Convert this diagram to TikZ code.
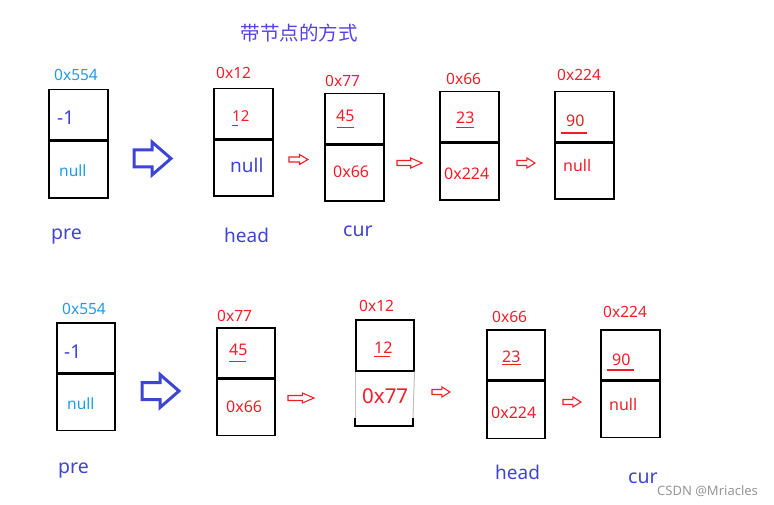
\documentclass[tikz,border=0pt]{standalone}
\usepackage{fontspec}
\setmainfont{Noto Sans}
\newfontfamily\cjkfont{Noto Sans CJK SC}
\definecolor{cyanc}{RGB}{30,155,230}
\definecolor{darkb}{RGB}{64,68,210}
\definecolor{redc}{RGB}{240,30,40}
\definecolor{titlec}{RGB}{85,65,230}
\definecolor{arrowblue}{RGB}{60,70,210}
\definecolor{wm}{RGB}{150,150,150}
\tikzset{
  cell/.style={draw=black, line width=1.5pt, inner sep=0pt, anchor=north west},
  lbl/.style={anchor=base west, inner sep=0pt},
  fs/.style={font=\fontsize{#1}{#1}\selectfont},
  uline/.style={draw=redc, line width=0.9pt},
  pics/bigarrow/.style={code={
    \draw[line width=3pt, draw=arrowblue, line join=miter]
      (0,-8.5) -- (18,-8.5) -- (18,-16.5) -- (37,0) -- (18,16.5) -- (18,8.5) -- (0,8.5) -- cycle;}},
  pics/redarrow/.style={code={
    \draw[draw=redc, line width=1.1pt, line join=miter]
      (0,-2.5) -- ({0.55*#1},-2.5) -- ({0.55*#1},-5) -- (#1,0) -- ({0.55*#1},5) -- ({0.55*#1},2.5) -- (0,2.5) -- cycle;}}
}
\begin{document}
\begin{tikzpicture}[x=1pt,y=-1pt]
\useasboundingbox (0,0) rectangle (774,505);

% title
\node[inner sep=0pt, text=titlec, font=\cjkfont\fontsize{19.5}{19.5}\selectfont] (title) at (299,33) {带节点的方式};

% ---------- top row boxes ----------
\node[cell, minimum width=59pt, minimum height=50pt] (p1t) at (48,89) {};
\node[cell, minimum width=59pt, minimum height=57pt] (p1b) at (p1t.south west) {};
\node[cell, minimum width=59pt, minimum height=50pt] (h1t) at (213,88) {};
\node[cell, minimum width=59pt, minimum height=56pt] (h1b) at (h1t.south west) {};
\node[cell, minimum width=59pt, minimum height=50pt] (c1t) at (324,93) {};
\node[cell, minimum width=59pt, minimum height=56pt] (c1b) at (c1t.south west) {};
\node[cell, minimum width=59pt, minimum height=50pt] (d1t) at (439,91) {};
\node[cell, minimum width=59pt, minimum height=57pt] (d1b) at (d1t.south west) {};
\node[cell, minimum width=59pt, minimum height=50pt] (e1t) at (554,91) {};
\node[cell, minimum width=59pt, minimum height=56pt] (e1b) at (e1t.south west) {};

% top row texts
\node[lbl, fs=15.5, text=cyanc] (t554) at (54,81) {0x554};
\node[lbl, fs=19, text=darkb] (tm1) at (57,125) {-1};
\node[lbl, fs=15.5, text=cyanc] (tnull1) at (59,177) {null};
\node[lbl, fs=19.5, text=darkb] (tpre) at (51,240) {pre};

\node[lbl, fs=15.5, text=redc] (t12a) at (216,79) {0x12};
\node[lbl, fs=15, text=redc] (t12) at (232,122) {12};
\draw[uline] (232,125) -- (238,125);
\node[lbl, fs=19, text=darkb] (tnull2) at (230,173) {null};
\node[lbl, fs=19, text=darkb] (thead) at (224,243) {head};

\node[lbl, fs=15.5, text=redc] (t77a) at (325,87) {0x77};
\node[lbl, fs=16, text=redc] (t45) at (336,122) {45};
\draw[uline] (337,127) -- (354,127);
\node[lbl, fs=16, text=redc] (t66b) at (333,178) {0x66};
\node[lbl, fs=19.5, text=darkb] (tcur) at (343,237) {cur};

\node[lbl, fs=15.5, text=redc] (t66a) at (446,85) {0x66};
\node[lbl, fs=16, text=redc] (t23) at (456,124) {23};
\draw[uline] (456,127) -- (474,127);
\node[lbl, fs=16, text=redc] (t224b) at (444,180) {0x224};

\node[lbl, fs=15.5, text=redc] (t224a) at (557,81) {0x224};
\node[lbl, fs=16, text=redc] (t90) at (566,127) {90};
\draw[uline, line width=1.4pt] (561,133) -- (587,133);
\node[lbl, fs=16, text=redc] (tnull3) at (563,172) {null};

% top arrows
\pic at (134,158.5) {bigarrow};
\pic at (289,159.5) {redarrow=19};
\pic at (397,163) {redarrow=25};
\pic at (517,163) {redarrow=18};

% ---------- bottom row boxes ----------
\node[cell, minimum width=58pt, minimum height=50pt] (p2t) at (56,322) {};
\node[cell, minimum width=58pt, minimum height=56pt] (p2b) at (p2t.south west) {};
\node[cell, minimum width=58pt, minimum height=50pt] (a2t) at (216,327) {};
\node[cell, minimum width=58pt, minimum height=56pt] (a2b) at (a2t.south west) {};
% partially hidden box 0x12
\node[cell, minimum width=58pt, minimum height=51pt] (h2t) at (355,319) {};
\coordinate (h2bl) at (355,426);
\coordinate (h2br) at (413,426);
\draw[black!25, line width=1pt] (h2t.south west) -- (355,418);
\draw[black!25, line width=1pt] (h2t.south east) -- (413,418);
\draw[black, line width=1.5pt] (355,418) -- (h2bl) -- (h2br) -- (413,418);
\node[cell, minimum width=58pt, minimum height=50pt] (d2t) at (486,329) {};
\node[cell, minimum width=58pt, minimum height=57pt] (d2b) at (d2t.south west) {};
\node[cell, minimum width=59pt, minimum height=50pt] (e2t) at (600,329) {};
\node[cell, minimum width=59pt, minimum height=56pt] (e2b) at (e2t.south west) {};

% bottom row texts
\node[lbl, fs=15.5, text=cyanc] (u554) at (62,314) {0x554};
\node[lbl, fs=19, text=darkb] (um1) at (64,358) {-1};
\node[lbl, fs=15.5, text=cyanc] (unull1) at (67,409) {null};
\node[lbl, fs=19.5, text=darkb] (upre) at (58,473) {pre};

\node[lbl, fs=15.5, text=redc] (u77a) at (217,321) {0x77};
\node[lbl, fs=16, text=redc] (u45) at (229,355) {45};
\draw[uline] (229,361) -- (246,361);
\node[lbl, fs=16, text=redc] (u66b) at (226,412) {0x66};

\node[lbl, fs=15.5, text=redc] (u12a) at (359,312) {0x12};
\node[lbl, fs=16, text=redc] (u12) at (374,353) {12};
\draw[uline] (374,356) -- (390,356);
\node[lbl, fs=20.5, text=redc] (u77b) at (362,403) {0x77};

\node[lbl, fs=15.5, text=redc] (u66a) at (492,322) {0x66};
\node[lbl, fs=16, text=redc] (u23) at (502,362) {23};
\draw[uline] (502,364) -- (521,364);
\node[lbl, fs=16, text=redc] (u224b) at (491,418) {0x224};
\node[lbl, fs=19, text=darkb] (uhead) at (495,479) {head};

\node[lbl, fs=15.5, text=redc] (u224a) at (603,317) {0x224};
\node[lbl, fs=16, text=redc] (u90) at (612,365) {90};
\draw[uline, line width=1.4pt] (607,370) -- (634,370);
\node[lbl, fs=16, text=redc] (unull3) at (609,410) {null};
\node[lbl, fs=19.5, text=darkb] (ucur) at (628,483) {cur};

% bottom arrows
\pic at (142,391) {bigarrow};
\pic at (288,398) {redarrow=26};
\pic at (432,392) {redarrow=18};
\pic at (563,402) {redarrow=18};

% watermark
\node[lbl, fs=13, text=wm] (wmark) at (657,495) {CSDN @Mriacles};
\end{tikzpicture}
\end{document}
